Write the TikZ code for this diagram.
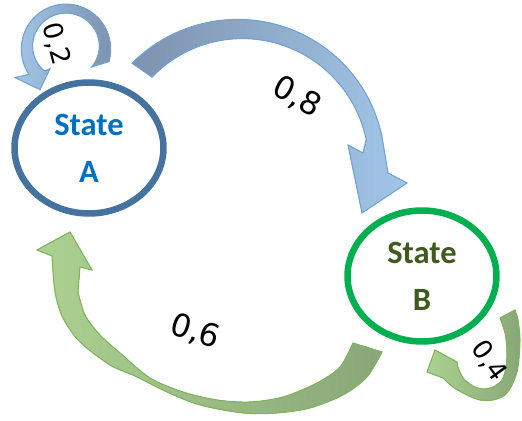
\documentclass[tikz,border=0pt]{standalone}
\usepackage{fontspec}
\setmainfont{Carlito}
\newfontfamily\probfont{DejaVu Sans}
\usetikzlibrary{shapes.geometric,calc}

\definecolor{ringA}{HTML}{44739F}
\definecolor{ringB}{HTML}{00B050}
\definecolor{textA}{HTML}{0070C0}
\definecolor{textB}{HTML}{3E5A1C}
\definecolor{blueDark}{HTML}{7D92AE}
\definecolor{blueLight}{HTML}{A2C6E8}
\definecolor{blueLine}{HTML}{6FA3D8}
\definecolor{greenDark}{HTML}{8AA679}
\definecolor{greenLight}{HTML}{ABD190}
\definecolor{greenLine}{HTML}{7DB55A}

\begin{document}
\begin{tikzpicture}[x=0.02cm,y=-0.02cm,
  declare function={bw(\k,\wa,\wb,\wc)=\wa*(1-\k)^2+2*\wb*\k*(1-\k)+\wc*\k^2;},
  state/.style={ellipse,draw,line width=3.7pt,minimum width=2.98cm,
    minimum height=2.62cm,inner sep=0pt,align=center,
    font=\bfseries\fontsize{18.5}{26.6}\selectfont},
  blueflow/.style={draw=blueLine,line width=.6pt},
  greenflow/.style={draw=greenLine,line width=.6pt},
  prob/.style={font=\probfont\fontsize{18}{20}\selectfont},
  smallprob/.style={font=\probfont\fontsize{15}{17}\selectfont}]
\useasboundingbox (0,0) rectangle (522,421);

\node[state,draw=ringA,text=textA] (A) at (89,148) {State\\A};
\node[state,draw=ringB,text=textB] (B) at (422,276) {State\\B};

% A -> A
\begin{scope}[shift={($(A)+(-23,-100.4)$)}]
\filldraw[blueflow,left color=blueLight,right color=blueDark]
  plot[domain=18:-216,samples=40] ({\x}:{39+bw((26-\x)/248,13,4.5,14)/2})
  -- (-51,30) -- (-26,42) -- (-16,21)
  -- plot[domain=-228:37,samples=40] ({\x}:{39-bw((26-\x)/248,13,4.5,14)/2}) -- cycle;
\end{scope}

% A -> B
\begin{scope}[shift={($(A)+(151,18)$)}]
\filldraw[blueflow,left color=blueDark,right color=blueLight]
  plot[domain=-136.4:-12,samples=50] ({\x}:{137+bw((\x+135.5)/123.5,24,16,16)/2})
  -- (148,7) -- (167,17) -- (122,47) -- (108,-21) -- (123,-13)
  -- plot[domain=-12:-134.7,samples=50] ({\x}:{137-bw((\x+135.5)/123.5,24,16,16)/2}) -- cycle;
\end{scope}

\begin{scope}[shift={(B)}]
% B -> A
\filldraw[greenflow,left color=greenLight,right color=greenDark]
  plot[smooth] coordinates {(-40,76) (-55,101) (-79,119) (-112,132) (-145,137)
    (-179,137) (-222,129) (-255,116) (-287,100) (-312,89) (-342,66) (-359,42)
    (-367,16) (-370,-20)}
  -- (-385,-26) -- (-352,-44) -- (-330,-6) -- (-342,-9)
  -- plot[smooth] coordinates {(-344,16) (-337,39) (-322,59) (-302,77) (-272,102)
    (-239,116) (-205,124) (-172,126) (-139,121) (-105,107) (-82,91) (-69,67)} -- cycle;
% B -> B
\filldraw[greenflow,left color=greenLight,right color=greenDark]
  plot[smooth] coordinates {(93,34) (96,44) (98,64) (96,91) (91,107) (83,119)
    (71,124) (58,124) (45,119) (31,111) (21,102)}
  -- (5,96) -- (13,74) -- (35,86)
  -- plot[smooth] coordinates {(36,91) (41,102) (51,110) (61,113) (71,111)
    (80,104) (84,91) (85,74) (83,57) (78,42)} -- cycle;
\end{scope}

\node[smallprob,rotate=-75] (pAA) at (56,44) {0,2};
\node[prob,rotate=-28] (pAB) at (297,97) {0,8};
\node[prob,rotate=-18] (pBA) at (195,332) {0,6};
\node[smallprob,rotate=-54] (pBB) at (489,361) {0,4};
\end{tikzpicture}
\end{document}
